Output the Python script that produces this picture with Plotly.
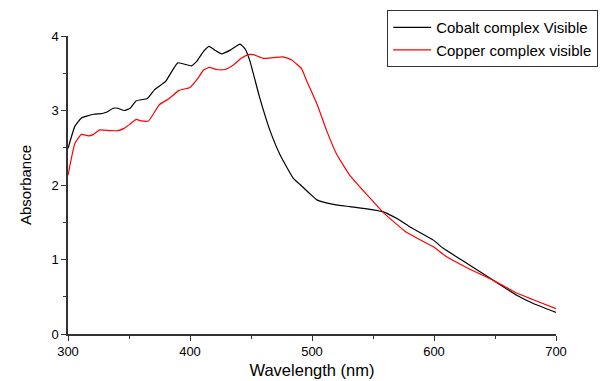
import plotly.graph_objects as go

cobalt_x = [300, 305.7, 311, 321, 328, 332, 337, 341, 346, 351, 356, 365, 371, 380, 390, 401, 405.5, 411, 415.6, 420.5, 426, 433, 441, 445, 449, 457, 465.6, 474, 484.7, 490, 497.8, 504, 517.5, 531, 545, 558.5, 570.7, 580, 599.5, 607.6, 626.8, 648.6, 667.8, 681.4, 700]
cobalt_y = [2.49, 2.79, 2.90, 2.95, 2.96, 2.98, 3.03, 3.03, 3.00, 3.03, 3.13, 3.16, 3.28, 3.39, 3.64, 3.60, 3.66, 3.79, 3.86, 3.81, 3.76, 3.81, 3.89, 3.83, 3.67, 3.18, 2.73, 2.40, 2.09, 2.01, 1.89, 1.80, 1.74, 1.71, 1.68, 1.64, 1.54, 1.44, 1.26, 1.15, 0.95, 0.72, 0.52, 0.41, 0.29]

copper_x = [300, 305.7, 311, 316.7, 321, 326, 334.4, 341, 346, 351, 356, 360, 366, 375, 382, 391, 400, 405.5, 411, 415.6, 422, 428.7, 435.5, 442, 447.8, 452, 460, 468, 476.5, 483, 491.5, 495.6, 504, 512, 520, 531, 545, 558.5, 577, 599.5, 610, 627, 648.6, 667.8, 681.4, 700]
copper_y = [2.13, 2.56, 2.68, 2.66, 2.68, 2.74, 2.73, 2.73, 2.76, 2.82, 2.88, 2.86, 2.86, 3.08, 3.15, 3.27, 3.31, 3.41, 3.54, 3.58, 3.55, 3.55, 3.61, 3.70, 3.75, 3.75, 3.70, 3.71, 3.72, 3.68, 3.56, 3.40, 3.09, 2.73, 2.42, 2.13, 1.87, 1.63, 1.37, 1.17, 1.04, 0.89, 0.72, 0.55, 0.46, 0.34]

x_ticks = [300, 400, 500, 600, 700]
y_ticks = [0, 1, 2, 3, 4]

FONT = "Liberation Sans, Arial"

fig = go.Figure()
fig.add_trace(go.Scatter(x=cobalt_x, y=cobalt_y, mode="lines", name="Cobalt complex Visible",
                         line=dict(color="black", width=1.2, shape="spline", smoothing=0.4)))
fig.add_trace(go.Scatter(x=copper_x, y=copper_y, mode="lines", name="Copper complex visible",
                         line=dict(color="red", width=1.2, shape="spline", smoothing=0.4)))

axis_common = dict(showline=True, linecolor="#333333", linewidth=1.5, showgrid=False, zeroline=False,
                   ticks="outside", tickcolor="#333333", ticklen=5, tickwidth=1.2,
                   tickfont=dict(family=FONT, size=13, color="black"),
                   mirror=False, automargin=False)

fig.update_xaxes(range=[300, 700], tickvals=x_ticks,
                 minor=dict(dtick=50, ticks="outside", ticklen=3, tickcolor="#333333", tickwidth=1.2),
                 title=dict(text="Wavelength (nm)", font=dict(family=FONT, size=16.5, color="black"), standoff=6),
                 **axis_common)
fig.update_yaxes(range=[0, 4], tickvals=y_ticks,
                 minor=dict(dtick=0.5, ticks="outside", ticklen=3, tickcolor="#333333", tickwidth=1.2),
                 title=dict(text="Absorbance", font=dict(family=FONT, size=15, color="black"), standoff=16),
                 **axis_common)

fig.update_layout(
    width=606, height=373,
    margin=dict(l=60, r=58, t=28, b=47, autoexpand=False),
    plot_bgcolor="white", paper_bgcolor="white",
    showlegend=True,
    legend=dict(x=0.654, y=1.087, xanchor="left", yanchor="top",
                bordercolor="#333333", borderwidth=1, bgcolor="white",
                font=dict(family=FONT, size=15, color="black"),
                tracegroupgap=0, itemwidth=38),
)

fig.write_html("out.html")
